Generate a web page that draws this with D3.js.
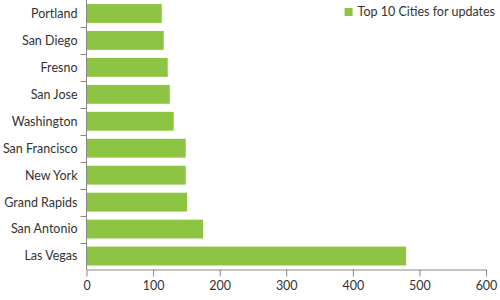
<!DOCTYPE html>
<html>
<head>
<meta charset="utf-8">
<script src="https://cdn.jsdelivr.net/npm/d3@7"></script>
<style>
  body { margin: 0; background: #fff; }
  svg text { font-family: Lato, "Open Sans", sans-serif; fill: #333; }
</style>
</head>
<body>
<div id="chart"></div>
<script>
const cities = ["Portland", "San Diego", "Fresno", "San Jose", "Washington",
    "San Francisco", "New York", "Grand Rapids", "San Antonio", "Las Vegas"];
const updates = [113, 116, 122, 125, 131, 149, 149, 151, 175, 480];
const xTicks = [0, 100, 200, 300, 400, 500, 600];
const seriesName = "Top 10 Cities for updates";

const width = 500, height = 300;
const margin = {top: 0, right: 14, bottom: 30.5, left: 86.5};
const barColor = "#8dc443";
const axisColor = "#888";
const fontSize = "12.5px";

const svg = d3.select("#chart")
    .append("svg")
    .attr("width", width)
    .attr("height", height);

const x = d3.scaleLinear()
    .domain([0, 600])
    .range([margin.left, width - margin.right]);

const y = d3.scaleBand()
    .domain(cities)
    .range([margin.top, height - margin.bottom])
    .paddingInner(0.3)
    .paddingOuter(0.15);

const yTickScale = d3.scaleLinear()
    .domain([0, cities.length])
    .range([margin.top, height - margin.bottom]);

// bars
svg.append("g")
    .selectAll("rect")
    .data(cities)
    .enter()
    .append("rect")
    .attr("x", x(0))
    .attr("y", d => y(d))
    .attr("width", (d, i) => x(updates[i]) - x(0))
    .attr("height", y.bandwidth())
    .attr("fill", barColor);

// x axis
const xAxis = svg.append("g")
    .attr("transform", `translate(0,${height - margin.bottom})`)
    .call(d3.axisBottom(x).tickValues(xTicks).tickSize(7).tickSizeOuter(0).tickPadding(5));

xAxis.selectAll("text").style("font-size", fontSize);
xAxis.selectAll(".domain, .tick line").attr("stroke", axisColor);

// y axis, ticks sit between categories
const yAxis = svg.append("g")
    .attr("transform", `translate(${margin.left},0)`);

yAxis.append("line")
    .attr("x1", 0).attr("x2", 0)
    .attr("y1", margin.top).attr("y2", height - margin.bottom);

yAxis.selectAll(".btick")
    .data(d3.range(1, cities.length))
    .enter()
    .append("line")
    .attr("class", "btick")
    .attr("x1", -6).attr("x2", 0)
    .attr("y1", d => Math.round(yTickScale(d)) + 0.5)
    .attr("y2", d => Math.round(yTickScale(d)) + 0.5);

yAxis.selectAll("line").attr("stroke", axisColor);

yAxis.selectAll("text")
    .data(cities)
    .enter()
    .append("text")
    .attr("x", -9)
    .attr("y", d => y(d) + y.bandwidth() / 2)
    .attr("dy", "0.35em")
    .attr("text-anchor", "end")
    .style("font-size", fontSize)
    .text(d => d);

// legend, right aligned to the page edge
const legend = svg.append("g")
    .attr("transform", "translate(495,8)");

const legendText = legend.append("text")
    .attr("x", 0)
    .attr("y", 4)
    .attr("dy", "0.35em")
    .attr("text-anchor", "end")
    .style("font-size", fontSize)
    .text(seriesName);

const textBox = legendText.node().getBBox();

legend.append("rect")
    .attr("x", textBox.x - 13)
    .attr("width", 8)
    .attr("height", 8)
    .attr("fill", barColor);
</script>
</body>
</html>
